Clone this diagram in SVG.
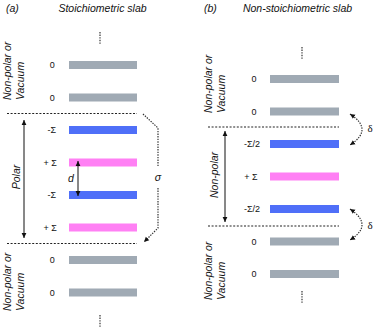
<svg xmlns="http://www.w3.org/2000/svg" width="374" height="327" viewBox="0 0 374 327">
<defs>
<style>
.t{font-family:"Liberation Sans",Arial,sans-serif;font-style:italic;font-size:10.5px;fill:#111}
.v{font-family:"Liberation Sans",Arial,sans-serif;font-size:9px;fill:#111;text-anchor:middle}
.s{font-family:"Liberation Serif","Times New Roman",serif;font-size:11px;fill:#111;text-anchor:middle}
.g{fill:#a0aab4}
.b{fill:#4f6ff8}
.p{fill:#ff80f4}
.dash{stroke:#222;stroke-width:1.1;stroke-dasharray:2 1.6;fill:none}
.dot{stroke:#333;stroke-width:1.2;stroke-dasharray:1.4 1.2;fill:none}
.ar{stroke:#111;stroke-width:1;fill:none}
</style>
<marker id="ah" markerWidth="6" markerHeight="6" refX="5" refY="3" orient="auto-start-reverse" markerUnits="userSpaceOnUse">
<path d="M0,0.6 L5,3 L0,5.4 Z" fill="#111"/>
</marker>
</defs>

<g id="titles">
<text class="t" x="6" y="12">(a)</text>
<text class="t" x="102.5" y="12" text-anchor="middle">Stoichiometric slab</text>
<text class="t" x="204" y="12">(b)</text>
<text class="t" x="297.5" y="12" text-anchor="middle">Non-stoichiometric slab</text>
</g>

<g id="a-region-labels">
<text class="t" transform="translate(10.5,100) rotate(-90)">Non-polar or</text>
<text class="t" transform="translate(23.5,100) rotate(-90)">Vacuum</text>
<text class="t" transform="translate(20,177) rotate(-90)" text-anchor="middle">Polar</text>
<text class="t" transform="translate(10.5,311) rotate(-90)">Non-polar or</text>
<text class="t" transform="translate(23.5,311) rotate(-90)">Vacuum</text>
</g>

<g id="a-layer1"><rect class="g" x="69" y="61" width="68" height="8"/><text class="v" x="52.3" y="68.2">0</text></g>
<g id="a-layer2"><rect class="g" x="69" y="93.5" width="68" height="8"/><text class="v" x="52.3" y="100.7">0</text></g>
<g id="a-layer3"><rect class="b" x="69" y="126" width="68" height="8"/><text class="v" x="51.8" y="133.2">-Σ</text></g>
<g id="a-layer4"><rect class="p" x="69" y="158.5" width="68" height="8"/><text class="v" x="50.2" y="165.7">+ Σ</text></g>
<g id="a-layer5"><rect class="b" x="69" y="191" width="68" height="8"/><text class="v" x="51.8" y="198.2">-Σ</text></g>
<g id="a-layer6"><rect class="p" x="69" y="223.5" width="68" height="8"/><text class="v" x="50.2" y="230.7">+ Σ</text></g>
<g id="a-layer7"><rect class="g" x="69" y="256" width="68" height="8"/><text class="v" x="52.3" y="263.2">0</text></g>
<g id="a-layer8"><rect class="g" x="69" y="288.5" width="68" height="8"/><text class="v" x="52.3" y="295.7">0</text></g>

<g id="b-region-labels">
<text class="t" transform="translate(212,113) rotate(-90)">Non-polar or</text>
<text class="t" transform="translate(225,113) rotate(-90)">Vacuum</text>
<text class="t" transform="translate(218,175) rotate(-90)" text-anchor="middle">Non-polar</text>
<text class="t" transform="translate(212,300) rotate(-90)">Non-polar or</text>
<text class="t" transform="translate(225,300) rotate(-90)">Vacuum</text>
</g>

<g id="b-layer1"><rect class="g" x="270" y="75" width="69" height="8"/><text class="v" x="254" y="82.2">0</text></g>
<g id="b-layer2"><rect class="g" x="270" y="107.5" width="69" height="8"/><text class="v" x="254" y="114.7">0</text></g>
<g id="b-layer3"><rect class="b" x="270" y="140" width="69" height="8"/><text class="v" x="252" y="147.2">-Σ/2</text></g>
<g id="b-layer4"><rect class="p" x="270" y="172.5" width="69" height="8"/><text class="v" x="251" y="179.7">+ Σ</text></g>
<g id="b-layer5"><rect class="b" x="270" y="205" width="69" height="8"/><text class="v" x="252" y="212.2">-Σ/2</text></g>
<g id="b-layer6"><rect class="g" x="270" y="237.5" width="69" height="8"/><text class="v" x="254" y="244.7">0</text></g>
<g id="b-layer7"><rect class="g" x="270" y="270" width="69" height="8"/><text class="v" x="254" y="277.2">0</text></g>

<g id="connectors">
<line class="dot" x1="100" y1="32" x2="100" y2="44"/>
<line class="dot" x1="100" y1="315" x2="100" y2="327"/>
<line class="dot" x1="302" y1="47" x2="302" y2="59"/>
<line class="dot" x1="302" y1="291" x2="302" y2="303"/>
<line class="dash" x1="7" y1="113.5" x2="137" y2="113.5"/>
<line class="dash" x1="7" y1="243.5" x2="137" y2="243.5"/>
<line class="dash" x1="208" y1="127" x2="339" y2="127"/>
<line class="dash" x1="208" y1="226" x2="339" y2="226"/>
<line class="ar" x1="24" y1="120" x2="24" y2="238" marker-start="url(#ah)" marker-end="url(#ah)"/>
<line class="ar" x1="78" y1="161" x2="78" y2="196" marker-start="url(#ah)" marker-end="url(#ah)"/>
<line class="ar" x1="225" y1="131" x2="225" y2="222" marker-start="url(#ah)" marker-end="url(#ah)"/>
<path class="dot" d="M143,114 L158,128 L158,167"/>
<path class="dot" d="M158,188 L158,228 L144,242" marker-end="url(#ah)"/>
<path class="dot" d="M350,114 Q374,129.5 350,145" marker-start="url(#ah)" marker-end="url(#ah)"/>
<path class="dot" d="M350,209 Q374,225 350,240" marker-start="url(#ah)" marker-end="url(#ah)"/>
<text class="t" x="71" y="182" text-anchor="middle">d</text>
<text class="t" x="158" y="181" text-anchor="middle">σ</text>
<text class="s" x="370" y="132">δ</text>
<text class="s" x="370" y="229">δ</text>
</g>
</svg>
